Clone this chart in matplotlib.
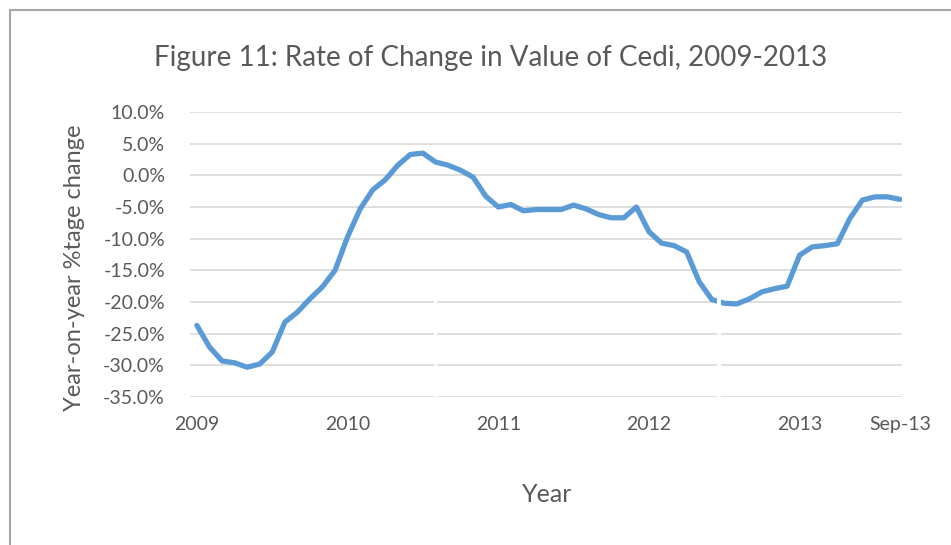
import matplotlib
matplotlib.use("Agg")
import matplotlib.pyplot as plt
from matplotlib.patches import Rectangle

# Monthly year-on-year % change, Jan 2009 .. Sep 2013
values = [-23.7, -27.1, -29.3, -29.6, -30.3, -29.8, -27.9, -23.2, -21.6, -19.5,
          -17.6, -15.0, -9.7, -5.3, -2.3, -0.7, 1.6, 3.3, 3.5, 2.1,
          1.6, 0.8, -0.3, -3.3, -5.0, -4.6, -5.6, -5.4, -5.4, -5.4,
          -4.7, -5.3, -6.2, -6.7, -6.7, -5.0, -8.9, -10.7, -11.1, -12.1,
          -16.8, -19.6, -20.2, -20.3, -19.5, -18.4, -17.9, -17.5, -12.6, -11.3,
          -11.1, -10.8, -6.8, -3.9, -3.4, -3.4, -3.8]
tick_pos = [0, 12, 24, 36, 48, 56]
tick_labels = ["2009", "2010", "2011", "2012", "2013", "Sep-13"]
y_ticks = [10, 5, 0, -5, -10, -15, -20, -25, -30, -35]

plt.rcParams['font.family'] = ['Lato', 'DejaVu Sans']
txt = '#595959'

fig = plt.figure(figsize=(9.51, 5.45), dpi=100)
fig.patch.set_facecolor('white')
fig.patches.append(Rectangle((10/951, -0.1), 1.2, 1 - 10/545 + 0.1, transform=fig.transFigure,
                             fill=False, edgecolor='#a6a6a6', linewidth=1.5))

ax = fig.add_axes([190/951, (545-397)/545, (902-190)/951, (397-112)/545])
x = list(range(len(values)))
ax.plot(x, values, color='#5b9bd5', linewidth=3.8, solid_capstyle='round', zorder=3)

ax.set_ylim(-35, 10)
ax.set_xlim(-0.55, 56.15)
ax.set_yticks(y_ticks)
ax.set_yticklabels([f"{v:.1f}%" for v in y_ticks])
ax.set_xticks(tick_pos)
ax.set_xticklabels(tick_labels)
ax.tick_params(axis='both', length=0, colors=txt, labelsize=14)
ax.tick_params(axis='y', pad=18)
ax.tick_params(axis='x', pad=14)
ax.grid(axis='y', color='#d9d9d9', linewidth=1.2)
ax.set_axisbelow(True)
for s in ax.spines.values():
    s.set_visible(False)

# scan artefacts: thin white vertical breaks
ax.plot([41.55, 41.55], [-35.5, -18.6], color='white', linewidth=3, zorder=4)
ax.plot([19.0, 19.0], [-35.5, -19.3], color='white', linewidth=2, zorder=4)

fig.text(491/951, 1 - 58/545, "Figure 11: Rate of Change in Value of Cedi, 2009-2013",
         ha='center', va='center', fontsize=20, color=txt)
fig.text(75/951, 1 - 268/545, "Year-on-year %tage change", rotation=90,
         ha='center', va='center', fontsize=17, color=txt)
fig.text(547/951, 1 - 495/545, "Year", ha='center', va='center', fontsize=18, color=txt)

fig.savefig("out.png", dpi=100, facecolor='white')
